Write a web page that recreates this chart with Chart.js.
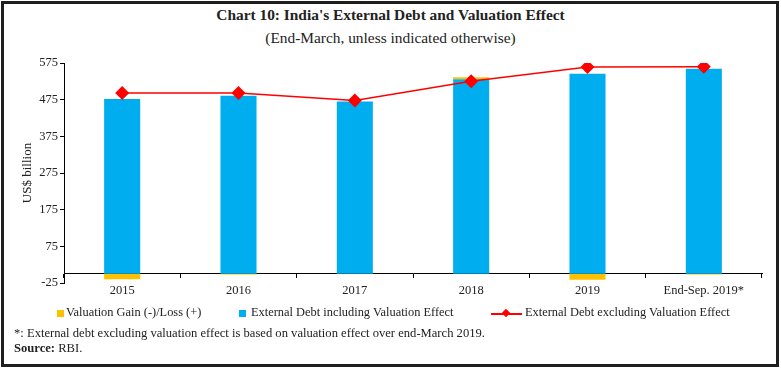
<!DOCTYPE html>
<html>
<head>
<meta charset="utf-8">
<script src="https://cdn.jsdelivr.net/npm/chart.js@4.4.0/dist/chart.umd.min.js"></script>
<style>
  body { margin: 0; width: 781px; height: 369px; position: relative; background: #fff; overflow: hidden;
         font-family: "Liberation Serif", "DejaVu Serif", serif; color: #222; }
  #frame { position: absolute; left: 1px; top: 1px; width: 772px; height: 360px; border: 3px solid #1e1e1e; }
  #chart { position: absolute; left: 0; top: 0; }
  .title { position: absolute; left: 0; width: 781px; text-align: center; }
  #t1 { top: 6px; font-size: 15.4px; font-weight: bold; }
  #t2 { top: 29px; font-size: 15.4px; }
  .leg { position: absolute; top: 305px; font-size: 12.4px; white-space: nowrap; }
  .sq { position: absolute; top: 310px; width: 7px; height: 7px; }
  .note { position: absolute; left: 14px; font-size: 12.6px; white-space: nowrap; }
</style>
</head>
<body>
<div id="frame"></div>
<div class="title" id="t1">Chart 10: India's External Debt and Valuation Effect</div>
<div class="title" id="t2">(End-March, unless indicated otherwise)</div>
<canvas id="chart" width="781" height="369"></canvas>

<div class="sq" style="left:57px; background:#FFC000"></div>
<div class="leg" style="left:66px">Valuation Gain (-)/Loss (+)</div>
<div class="sq" style="left:239px; background:#00AEEF"></div>
<div class="leg" style="left:251px">External Debt including Valuation Effect</div>
<div style="position:absolute; left:491px; top:313px; width:31px; height:2px; background:#FF0000"></div>
<div style="position:absolute; left:503px; top:310px; width:6px; height:6px; background:#FF0000; transform:rotate(45deg)"></div>
<div class="leg" style="left:525px">External Debt excluding Valuation Effect</div>

<div class="note" style="top:326px">*: External debt excluding valuation effect is based on valuation effect over end-March 2019.</div>
<div class="note" style="top:341px"><b>Source:</b> RBI.</div>

<script>
// data
const categories = ['2015', '2016', '2017', '2018', '2019', 'End-Sep. 2019*'];
const valuationEffect = [-15, -2, 0, 5, -16, -2];
const debtIncluding = [477, 486, 470, 531, 546, 559];
const debtExcluding = [493, 493, 473, 525, 564, 565];
const yMin = -25, yMax = 575, yStep = 100;

const fontFamily = '"Liberation Serif", "DejaVu Serif", serif';
const textColor = '#222';

var ctx = document.getElementById('chart').getContext('2d');

var chart = new Chart(ctx, {
    type: 'bar',
    data: {
        labels: categories,
        datasets: [
            {
                label: 'External Debt including Valuation Effect',
                data: debtIncluding,
                backgroundColor: '#00AEEF',
                borderWidth: 0,
                barPercentage: 0.31,
                categoryPercentage: 1.0,
                stack: 'debt',
                order: 1
            },
            {
                label: 'Valuation Gain (-)/Loss (+)',
                data: valuationEffect,
                backgroundColor: '#FFC000',
                borderWidth: 0,
                barPercentage: 0.31,
                categoryPercentage: 1.0,
                stack: 'debt',
                order: 1
            },
            {
                type: 'line',
                label: 'External Debt excluding Valuation Effect',
                data: debtExcluding,
                borderColor: '#FF0000',
                borderWidth: 1.5,
                pointStyle: 'rectRot',
                pointRadius: 7,
                pointBackgroundColor: '#FF0000',
                pointBorderWidth: 0,
                tension: 0,
                stack: 'line',
                order: 0
            }
        ]
    },
    options: {
        responsive: false,
        animation: false,
        devicePixelRatio: 1,
        layout: { padding: { left: 0, right: 19, top: 63, bottom: 86 } },
        scales: {
            x: {
                stacked: true,
                position: { y: 0 },
                grid: { drawOnChartArea: false, drawTicks: true, tickLength: 4, offset: true, color: '#000' },
                border: { display: true, color: '#000', width: 1 },
                ticks: { color: textColor, font: { family: fontFamily, size: 12.5 }, padding: 5, maxRotation: 0, autoSkip: false }
            },
            y: {
                stacked: true,
                min: yMin,
                max: yMax,
                ticks: { stepSize: yStep, color: textColor, font: { family: fontFamily, size: 12.5 }, padding: 2 },
                grid: { drawOnChartArea: false, tickLength: 4, color: '#000' },
                border: { display: true, color: '#000', width: 1 },
                title: { display: true, text: 'US$ billion', color: textColor, font: { family: fontFamily, size: 13 }, padding: { top: 20, bottom: 0 } },
                afterFit: function (scale) { scale.width = 64; }
            }
        },
        plugins: {
            legend: { display: false },
            tooltip: { enabled: false }
        }
    }
});
</script>
</body>
</html>
